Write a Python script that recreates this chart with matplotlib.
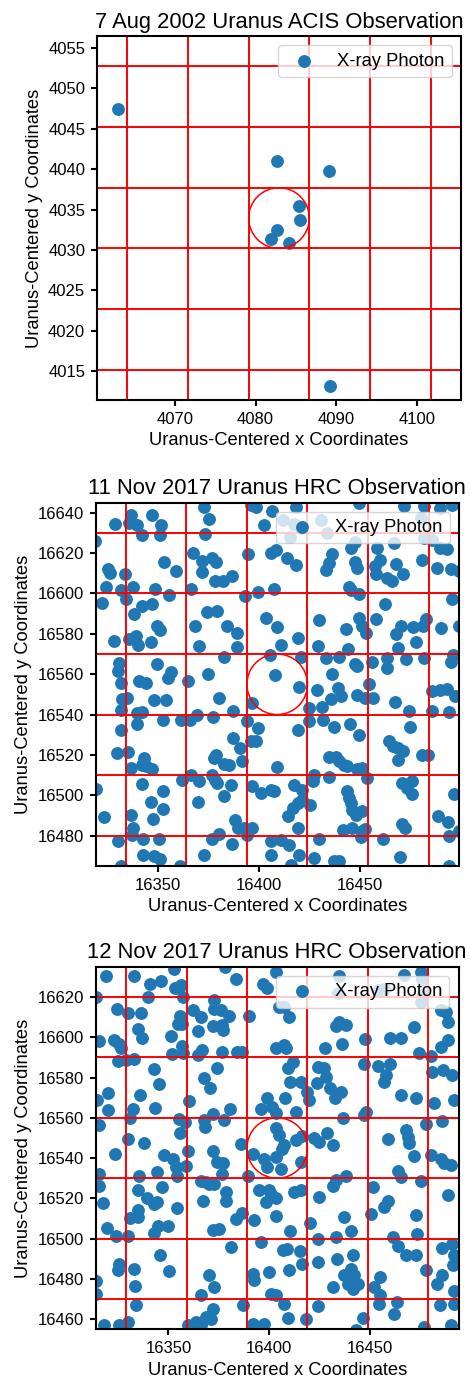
import matplotlib
matplotlib.use('Agg')
import matplotlib.pyplot as plt
from matplotlib.ticker import MultipleLocator

plt.rcParams['font.family'] = ['Liberation Sans', 'DejaVu Sans']

# 7 Aug 2002 ACIS photons
acis_x = [4063.0, 4082.6, 4089.1, 4085.4, 4085.5, 4082.6, 4081.9, 4084.1, 4089.2]
acis_y = [4047.4, 4041.0, 4039.8, 4035.5, 4033.7, 4032.5, 4031.4, 4030.9, 4013.2]
acis_center = (4082.9, 4033.95)
acis_cell = 7.5

# 11 Nov 2017 HRC photons
hrc11_pts = [
    (16336.5, 16639.1), (16328.5, 16634.6), (16335.6, 16635.0), (16339.4, 16633.8), (16346.8, 16638.8),
    (16351.6, 16633.8), (16372.8, 16642.7), (16375.2, 16637.1), (16395.9, 16643.7), (16398.7, 16642.7),
    (16406.6, 16640.7), (16402.5, 16633.8), (16342.2, 16628.9), (16350.8, 16628.9), (16373.3, 16629.5),
    (16318.6, 16625.9), (16367.5, 16620.1), (16352.9, 16615.5), (16371.9, 16616.0), (16376.5, 16617.7),
    (16378.5, 16615.7), (16394.5, 16619.3), (16405.8, 16619.8), (16408.2, 16621.3), (16325.2, 16612.2),
    (16326.1, 16610.2), (16333.5, 16609.4), (16358.7, 16611.0), (16371.9, 16610.5), (16378.2, 16606.4),
    (16382.2, 16606.4), (16386.5, 16608.6), (16324.1, 16603.3), (16331.8, 16601.6), (16337.8, 16603.3),
    (16348.5, 16602.0), (16366.2, 16602.0), (16407.4, 16602.3), (16322.4, 16595.4), (16334.3, 16597.3),
    (16355.4, 16599.2), (16392.9, 16598.7), (16399.7, 16600.6), (16342.2, 16594.0), (16347.2, 16595.0),
    (16338.1, 16589.9), (16374.4, 16590.7), (16379.0, 16591.2), (16403.3, 16587.9), (16349.3, 16583.7),
    (16350.8, 16581.7), (16368.3, 16583.8), (16384.3, 16583.8), (16388.9, 16580.5), (16408.7, 16583.3),
    (16328.2, 16576.4), (16335.6, 16577.6), (16338.9, 16578.9), (16340.1, 16574.4), (16346.7, 16576.1),
    (16370.4, 16573.9), (16388.9, 16573.4), (16382.7, 16568.5), (16330.7, 16565.3), (16329.9, 16561.5),
    (16349.3, 16565.2), (16356.3, 16561.2), (16354.9, 16558.2), (16374.7, 16560.2), (16331.5, 16555.8),
    (16340.6, 16556.6), (16343.9, 16555.8), (16365.0, 16556.6), (16405.3, 16569.5), (16408.0, 16559.5),
    (16418.3, 16642.7), (16411.7, 16636.6), (16417.4, 16634.5), (16420.7, 16632.5), (16415.3, 16627.9),
    (16430.6, 16636.6), (16433.9, 16630.0), (16449.6, 16645.0), (16447.4, 16625.6), (16466.9, 16625.1),
    (16471.8, 16643.2), (16481.7, 16643.2), (16480.0, 16637.5), (16489.9, 16642.4), (16495.7, 16643.7),
    (16481.7, 16627.5), (16485.8, 16626.7), (16414.1, 16617.6), (16418.3, 16614.0), (16436.4, 16619.6),
    (16434.7, 16615.2), (16433.1, 16611.4), (16445.4, 16622.6), (16447.4, 16615.7), (16448.7, 16612.7),
    (16458.3, 16622.6), (16457.3, 16613.5), (16460.0, 16616.8), (16458.1, 16609.7), (16463.6, 16607.4),
    (16466.0, 16606.1), (16467.7, 16614.7), (16471.3, 16609.4), (16480.5, 16616.8), (16488.3, 16612.7),
    (16489.9, 16622.6), (16493.2, 16621.8), (16494.9, 16611.9), (16499.0, 16611.1), (16444.6, 16603.1),
    (16445.8, 16601.5), (16449.6, 16599.5), (16462.4, 16594.9), (16495.7, 16597.0), (16429.5, 16586.6),
    (16449.6, 16588.0), (16451.2, 16583.8), (16452.9, 16580.5), (16457.8, 16587.1), (16443.0, 16582.2),
    (16467.7, 16579.7), (16470.2, 16583.8), (16476.4, 16583.3), (16481.4, 16583.8), (16482.5, 16587.1),
    (16490.4, 16582.7), (16499.0, 16583.8), (16419.1, 16578.0), (16429.0, 16573.9), (16444.3, 16572.3),
    (16469.0, 16572.8), (16477.6, 16575.9), (16410.8, 16574.4), (16420.7, 16568.5), (16433.1, 16568.1),
    (16439.7, 16568.5), (16447.4, 16565.2), (16448.7, 16564.0), (16456.2, 16566.0), (16463.6, 16568.1),
    (16463.6, 16563.2), (16472.6, 16567.3), (16481.7, 16568.1), (16494.9, 16566.2), (16496.0, 16569.5),
    (16436.4, 16559.9),
    (16332.3, 16547.5), (16331.5, 16542.5), (16334.8, 16548.0), (16348.0, 16547.0), (16353.8, 16547.0),
    (16380.2, 16548.3), (16396.7, 16545.8), (16339.8, 16540.9), (16342.2, 16541.3), (16339.8, 16535.1),
    (16352.6, 16537.5), (16361.2, 16537.5), (16365.8, 16537.5), (16369.5, 16539.7), (16377.4, 16538.7),
    (16387.3, 16541.7), (16394.2, 16537.0), (16399.5, 16533.4), (16331.5, 16532.1), (16387.3, 16528.5),
    (16390.6, 16523.5), (16395.9, 16526.8), (16398.3, 16527.1), (16391.7, 16516.9), (16329.5, 16521.0),
    (16335.3, 16521.3), (16343.1, 16518.5), (16342.2, 16515.2), (16343.9, 16514.4), (16347.2, 16512.8),
    (16336.8, 16513.6), (16377.7, 16518.5), (16378.5, 16520.2), (16382.7, 16515.7), (16385.1, 16514.9),
    (16408.7, 16513.9), (16319.1, 16503.3), (16342.2, 16505.6), (16352.6, 16502.0), (16362.0, 16507.8),
    (16366.2, 16510.0), (16370.3, 16507.3), (16376.9, 16510.0), (16378.0, 16507.8), (16379.4, 16506.1),
    (16386.0, 16505.3), (16382.7, 16499.5), (16396.7, 16504.5), (16400.8, 16501.2), (16405.8, 16502.8),
    (16407.4, 16502.3), (16346.4, 16496.7), (16369.8, 16496.7), (16352.6, 16493.4), (16323.3, 16489.1),
    (16347.7, 16488.5), (16336.8, 16490.1), (16337.8, 16483.8), (16337.3, 16480.2), (16388.0, 16488.0),
    (16389.6, 16483.8), (16392.6, 16483.8), (16396.7, 16483.8), (16393.9, 16480.2), (16380.2, 16481.0),
    (16376.9, 16478.5), (16330.2, 16477.2), (16342.7, 16478.5), (16350.5, 16478.5), (16386.8, 16476.1),
    (16405.8, 16477.5), (16342.7, 16470.3), (16348.0, 16469.8), (16351.0, 16468.6), (16372.8, 16470.3),
    (16360.9, 16464.8), (16405.8, 16470.6), (16331.5, 16464.8),
    (16419.9, 16553.6), (16428.6, 16552.4), (16438.9, 16553.2), (16440.5, 16549.1), (16435.9, 16547.5),
    (16448.7, 16549.9), (16452.4, 16548.0), (16456.6, 16548.0), (16454.5, 16554.9), (16467.4, 16546.3),
    (16485.8, 16551.6), (16489.9, 16552.4), (16493.2, 16552.9), (16497.3, 16549.1), (16424.9, 16543.3),
    (16431.4, 16543.7), (16424.9, 16536.7), (16431.9, 16537.1), (16437.2, 16533.7), (16445.1, 16535.1),
    (16449.6, 16529.8), (16474.3, 16541.7), (16474.6, 16533.7), (16485.8, 16542.0), (16494.0, 16541.3),
    (16419.1, 16532.3), (16464.4, 16526.8), (16466.5, 16524.3), (16468.8, 16523.5), (16471.5, 16521.8),
    (16468.8, 16517.7), (16480.9, 16520.2), (16483.7, 16520.2), (16434.7, 16518.9), (16438.0, 16518.9),
    (16439.7, 16516.9), (16442.1, 16515.2), (16443.5, 16514.4), (16448.7, 16512.8), (16451.2, 16513.6),
    (16453.4, 16508.6), (16427.3, 16510.3), (16426.5, 16507.3), (16434.7, 16508.9), (16417.4, 16505.0),
    (16421.1, 16502.8), (16443.8, 16502.0), (16444.6, 16498.7), (16445.4, 16496.2), (16446.3, 16492.9),
    (16447.9, 16490.4), (16451.2, 16492.4), (16471.0, 16506.1), (16473.1, 16503.7), (16475.9, 16507.0),
    (16475.9, 16500.4), (16496.5, 16500.4), (16421.1, 16497.9), (16419.1, 16496.2), (16425.3, 16495.4),
    (16416.6, 16493.7), (16414.5, 16489.6), (16419.1, 16483.8), (16441.8, 16482.8), (16446.3, 16483.8),
    (16451.2, 16482.5), (16452.4, 16483.5), (16450.4, 16479.2), (16471.0, 16485.8), (16472.1, 16483.8),
    (16488.8, 16489.9), (16493.6, 16486.6), (16499.0, 16482.2), (16494.0, 16479.7), (16410.8, 16478.0),
    (16415.0, 16475.6), (16429.8, 16478.5), (16461.6, 16478.5), (16419.9, 16470.3), (16427.3, 16468.9),
    (16437.2, 16467.3), (16439.7, 16467.3), (16469.8, 16469.4), (16415.8, 16465.6), (16494.0, 16464.8),
]
hrc11_x = [p[0] for p in hrc11_pts]
hrc11_y = [p[1] for p in hrc11_pts]
hrc11_center = (16409.0, 16555.0)

# 12 Nov 2017 HRC photons
hrc12_pts = [
    (16319.1, 16630.4), (16333.1, 16630.4), (16341.0, 16626.3), (16346.3, 16628.0), (16352.9, 16634.0),
    (16353.2, 16624.5), (16356.5, 16626.1), (16357.5, 16620.0), (16339.7, 16620.0), (16378.0, 16634.9),
    (16383.8, 16628.8), (16397.1, 16626.6), (16399.1, 16624.5), (16403.2, 16632.4), (16314.1, 16620.0),
    (16324.5, 16613.9), (16330.1, 16611.8), (16336.4, 16611.8), (16355.9, 16610.6), (16354.6, 16606.8),
    (16357.0, 16606.8), (16362.0, 16613.4), (16366.4, 16610.1), (16372.7, 16618.4), (16372.4, 16614.2),
    (16376.0, 16613.4), (16380.1, 16610.6), (16390.0, 16610.6), (16371.9, 16605.7), (16376.8, 16606.0),
    (16377.3, 16603.5), (16364.5, 16603.2), (16335.1, 16603.9), (16336.9, 16599.7), (16351.3, 16600.7),
    (16315.8, 16598.1), (16323.2, 16598.6), (16325.7, 16596.4), (16326.5, 16594.4), (16357.0, 16595.8),
    (16357.5, 16592.0), (16351.6, 16591.6), (16364.5, 16591.1), (16366.9, 16593.6), (16376.8, 16592.5),
    (16384.3, 16592.5), (16386.7, 16592.5), (16403.2, 16594.5), (16325.2, 16588.2), (16329.0, 16588.7),
    (16332.8, 16589.2), (16343.0, 16584.2), (16374.0, 16584.9), (16345.5, 16576.6), (16367.8, 16579.6),
    (16370.7, 16575.0), (16319.9, 16572.5), (16314.6, 16568.9), (16336.1, 16571.3), (16360.0, 16568.5),
    (16320.2, 16563.9), (16332.3, 16564.4), (16331.1, 16559.8), (16343.5, 16565.1), (16380.6, 16564.4),
    (16371.9, 16561.8), (16398.8, 16569.7), (16395.8, 16564.4), (16401.6, 16565.6), (16403.2, 16562.3),
    (16315.8, 16556.5), (16355.4, 16559.5), (16358.2, 16558.1), (16367.8, 16559.0), (16368.3, 16555.2),
    (16377.7, 16559.0), (16355.9, 16552.4), (16330.1, 16549.6), (16338.1, 16547.4), (16385.9, 16547.1),
    (16403.2, 16554.8), (16405.0, 16551.7), (16406.6, 16544.3),
    (16434.8, 16630.4), (16416.2, 16622.8), (16434.0, 16621.7), (16467.0, 16630.7), (16475.3, 16632.4),
    (16476.1, 16629.1), (16453.8, 16623.3), (16457.1, 16624.1), (16476.1, 16620.8), (16475.3, 16617.5),
    (16407.6, 16615.1), (16405.1, 16615.1), (16410.1, 16610.1), (16485.2, 16613.4), (16487.6, 16612.6),
    (16433.2, 16605.7), (16434.8, 16607.3), (16438.1, 16606.0), (16472.0, 16605.2), (16488.8, 16607.3),
    (16447.5, 16599.1), (16460.1, 16599.7), (16465.4, 16599.4), (16427.7, 16594.8), (16436.0, 16596.8),
    (16407.6, 16596.1), (16408.4, 16594.5), (16485.2, 16595.3), (16488.8, 16598.6), (16474.4, 16592.0),
    (16480.2, 16590.8), (16411.7, 16587.8), (16409.3, 16584.9), (16424.4, 16585.4), (16427.4, 16584.5),
    (16428.2, 16580.4), (16446.9, 16586.5), (16453.8, 16585.9), (16460.1, 16586.5), (16458.0, 16581.2),
    (16456.8, 16577.6), (16481.0, 16582.9), (16486.5, 16583.7), (16490.9, 16581.2), (16410.6, 16577.6),
    (16415.9, 16578.0), (16423.8, 16577.1), (16430.4, 16575.0), (16418.8, 16573.0), (16420.0, 16568.9),
    (16435.7, 16572.7), (16432.7, 16569.7), (16407.9, 16569.7), (16413.4, 16562.8), (16465.4, 16571.3),
    (16472.8, 16569.7), (16481.9, 16567.2), (16491.8, 16568.9), (16436.5, 16560.1), (16446.9, 16561.4),
    (16448.0, 16563.1), (16477.7, 16556.8), (16486.0, 16558.5), (16416.2, 16551.2), (16413.4, 16549.1),
    (16422.5, 16550.2), (16424.9, 16548.2), (16428.7, 16552.4), (16431.5, 16546.6), (16458.8, 16549.6),
    (16467.8, 16554.0), (16469.0, 16550.7), (16469.5, 16547.4), (16407.3, 16546.6),
    (16323.5, 16542.0), (16348.0, 16541.5), (16352.1, 16539.5), (16353.7, 16535.4), (16354.2, 16531.3),
    (16358.7, 16535.9), (16359.5, 16543.7), (16371.9, 16543.7), (16374.0, 16538.2), (16377.3, 16537.6),
    (16376.8, 16532.1), (16389.5, 16531.3), (16392.2, 16542.0), (16397.5, 16539.5), (16398.8, 16535.4),
    (16403.2, 16540.4), (16315.8, 16532.1), (16335.6, 16531.3), (16344.3, 16533.3), (16315.8, 16526.0),
    (16334.8, 16524.4), (16346.6, 16525.5), (16339.4, 16520.1), (16343.0, 16517.3), (16344.3, 16518.1),
    (16317.4, 16517.8), (16354.2, 16515.1), (16366.4, 16528.8), (16368.6, 16528.0), (16370.2, 16527.2),
    (16372.7, 16527.2), (16378.5, 16523.4), (16378.5, 16518.9), (16367.4, 16518.9), (16395.0, 16524.4),
    (16399.9, 16524.4), (16400.8, 16522.2), (16398.3, 16518.4), (16403.2, 16520.1), (16334.8, 16514.0),
    (16331.1, 16510.2), (16334.8, 16510.7), (16383.4, 16509.8), (16386.7, 16512.8), (16392.5, 16509.5),
    (16403.2, 16511.2), (16319.6, 16505.2), (16344.7, 16506.2), (16343.0, 16502.9), (16349.6, 16506.2),
    (16371.9, 16504.4), (16375.2, 16504.6), (16324.0, 16501.3), (16329.8, 16501.3), (16381.3, 16495.8),
    (16395.8, 16498.3), (16346.0, 16491.7), (16325.7, 16487.6), (16324.9, 16484.3), (16332.8, 16484.8),
    (16350.4, 16483.8), (16314.1, 16478.8), (16314.1, 16472.7), (16333.4, 16476.5), (16370.2, 16482.1),
    (16372.7, 16476.0), (16366.4, 16471.9), (16392.2, 16482.6), (16392.5, 16479.3), (16399.9, 16483.4),
    (16400.8, 16472.7), (16403.2, 16471.9), (16333.9, 16467.3), (16387.2, 16467.3), (16371.9, 16465.3),
    (16317.9, 16457.0), (16325.7, 16457.4), (16329.8, 16458.7), (16359.5, 16457.4), (16363.6, 16458.7),
    (16366.1, 16457.4), (16368.6, 16461.2), (16371.1, 16460.3), (16392.2, 16457.9), (16397.5, 16457.9),
    (16405.9, 16534.6), (16415.9, 16537.9), (16472.0, 16540.9), (16480.5, 16541.5), (16485.2, 16539.5),
    (16486.8, 16537.6), (16490.4, 16536.6), (16433.2, 16529.3), (16431.5, 16526.0), (16438.1, 16531.3),
    (16464.0, 16533.8), (16465.4, 16530.5), (16475.3, 16528.8), (16412.2, 16523.4), (16415.9, 16524.4),
    (16424.9, 16520.6), (16451.8, 16525.5), (16488.8, 16521.7), (16458.8, 16518.9), (16457.1, 16515.6),
    (16450.5, 16512.3), (16437.3, 16510.7), (16472.8, 16511.8), (16420.5, 16507.9), (16410.6, 16503.6),
    (16440.6, 16503.6), (16473.3, 16502.4), (16424.1, 16499.9), (16433.2, 16500.8), (16461.7, 16500.8),
    (16464.0, 16496.3), (16467.8, 16491.7), (16472.8, 16492.0), (16486.0, 16495.3), (16490.9, 16497.5),
    (16406.8, 16494.2), (16408.9, 16495.0), (16415.5, 16493.7), (16416.2, 16487.6), (16424.4, 16488.4),
    (16433.7, 16489.7), (16441.4, 16491.7), (16491.8, 16492.0), (16491.4, 16487.1), (16410.1, 16484.3),
    (16437.3, 16482.1), (16440.6, 16485.1), (16442.3, 16481.8), (16439.0, 16477.7), (16441.4, 16475.2),
    (16443.9, 16477.7), (16440.3, 16481.0), (16431.5, 16476.0), (16455.1, 16481.0), (16452.2, 16476.0),
    (16455.1, 16471.9), (16477.7, 16484.3), (16486.0, 16482.1), (16483.2, 16477.7), (16491.8, 16473.9),
    (16407.6, 16467.8), (16424.1, 16466.6), (16454.6, 16467.8), (16463.4, 16468.6), (16462.1, 16462.8),
    (16484.8, 16466.9), (16491.8, 16467.8), (16409.6, 16460.7), (16418.3, 16460.3), (16446.4, 16460.7),
    (16443.1, 16454.6), (16476.9, 16456.2), (16490.1, 16457.0),
]
hrc12_x = [p[0] for p in hrc12_pts]
hrc12_y = [p[1] for p in hrc12_pts]
hrc12_center = (16404.0, 16545.0)
hrc_cell = 30.0

titles = ['7 Aug 2002 Uranus ACIS Observation',
          '11 Nov 2017 Uranus HRC Observation',
          '12 Nov 2017 Uranus HRC Observation']


def draw_panel(ax, xs, ys, center, cell, title, xstep, ystep):
    cx, cy = center
    ax.scatter(xs, ys, s=68, color='#1f77b4', label='X-ray Photon')
    for k in range(-3, 3):
        ax.axvline(cx + cell / 2 + k * cell, color='red', lw=1.4)
        ax.axhline(cy + cell / 2 + k * cell, color='red', lw=1.4)
    ax.add_patch(plt.Circle((cx, cy), cell / 2, fill=False, color='red', lw=1.1))
    ax.set_xlim(cx - 3 * cell, cx + 3 * cell)
    ax.set_ylim(cy - 3 * cell, cy + 3 * cell)
    ax.set_aspect('equal')
    ax.xaxis.set_major_locator(MultipleLocator(xstep))
    ax.yaxis.set_major_locator(MultipleLocator(ystep))
    ax.tick_params(labelsize=12, length=4.5, width=1.5, pad=4)
    for sp in ax.spines.values():
        sp.set_linewidth(1.5)
    ax.set_title(title, fontsize=15.8, pad=6)
    ax.set_xlabel('Uranus-Centered x Coordinates', fontsize=13.2)
    ax.set_ylabel('Uranus-Centered y Coordinates', fontsize=13.2)
    ax.legend(loc='upper right', fontsize=13.2)


fig = plt.figure(figsize=(4.69, 13.8), dpi=100)
ax1 = fig.add_axes([0.2068, 0.7101, 0.7761, 0.2638])
ax2 = fig.add_axes([0.2026, 0.3725, 0.7768, 0.2633])
ax3 = fig.add_axes([0.2026, 0.0367, 0.7768, 0.2628])

draw_panel(ax1, acis_x, acis_y, acis_center, acis_cell, titles[0], 10, 5)
draw_panel(ax2, hrc11_x, hrc11_y, hrc11_center, hrc_cell, titles[1], 50, 20)
draw_panel(ax3, hrc12_x, hrc12_y, hrc12_center, hrc_cell, titles[2], 50, 20)

fig.savefig('out.png', dpi=100)
